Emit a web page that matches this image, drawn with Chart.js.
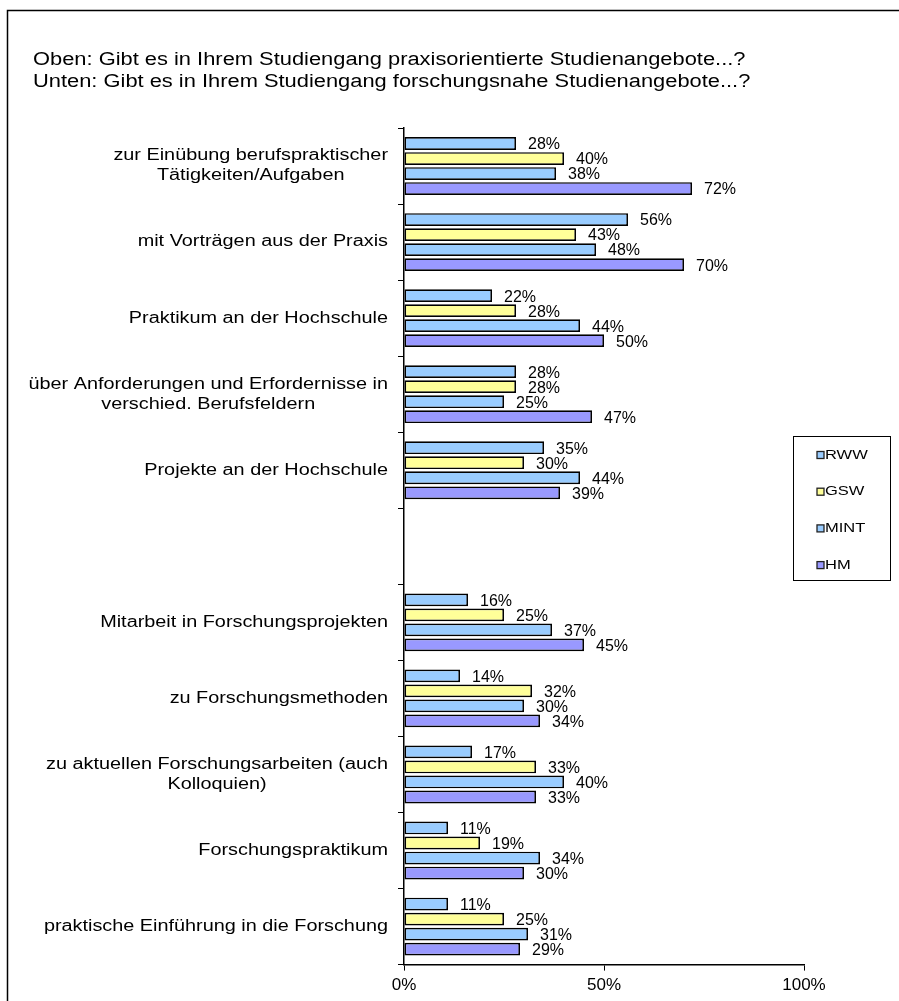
<!DOCTYPE html>
<html>
<head>
<meta charset="utf-8">
<script src="https://cdn.jsdelivr.net/npm/chart.js@4"></script>
<style>
  body { margin: 0; background: #fff; }
  #wrap { width: 899px; height: 1001px; }
</style>
</head>
<body>
<div id="wrap"><canvas id="chart" width="899" height="1001"></canvas></div>
<script>
const categories = [
  ["zur Einübung berufspraktischer", "Tätigkeiten/Aufgaben"],
  ["mit Vorträgen aus der Praxis"],
  ["Praktikum an der Hochschule"],
  ["über Anforderungen und Erfordernisse in", "verschied. Berufsfeldern"],
  ["Projekte an der Hochschule"],
  [""],
  ["Mitarbeit in Forschungsprojekten"],
  ["zu Forschungsmethoden"],
  ["zu aktuellen Forschungsarbeiten (auch", "Kolloquien)"],
  ["Forschungspraktikum"],
  ["praktische Einführung in die Forschung"]
];
const seriesNames = ["RWW", "GSW", "MINT", "HM"];
const rww  = [28, 56, 22, 28, 35, null, 16, 14, 17, 11, 11];
const gsw  = [40, 43, 28, 28, 30, null, 25, 32, 33, 19, 25];
const mint = [38, 48, 44, 25, 44, null, 37, 30, 40, 34, 31];
const hm   = [72, 70, 50, 47, 39, null, 45, 34, 33, 30, 29];
const xTicks = [0, 50, 100];
const titleLines = [
  "Oben: Gibt es in Ihrem Studiengang praxisorientierte Studienangebote...?",
  "Unten: Gibt es in Ihrem Studiengang forschungsnahe Studienangebote...?"
];

const FONT = "'Liberation Sans', Arial, sans-serif";
const colors = ["#99CCFF", "#FFFF99", "#99CCFF", "#9999FF"];

// the source renders its text a bit wider, so stretch horizontally
function wideText(ctx, text, x, y, sx) {
  ctx.save();
  ctx.translate(x, y);
  ctx.scale(sx, 1);
  ctx.fillText(text, 0, 0);
  ctx.restore();
}

const decor = {
  id: "decor",
  beforeDraw(chart) {
    const ctx = chart.ctx;
    ctx.save();
    ctx.fillStyle = "#fff";
    ctx.fillRect(0, 0, chart.width, chart.height);
    ctx.strokeStyle = "#000";
    ctx.lineWidth = 1.5;
    ctx.beginPath();
    ctx.moveTo(7.5, chart.height);
    ctx.lineTo(7.5, 10.5);
    ctx.lineTo(chart.width, 10.5);
    ctx.stroke();
    ctx.fillStyle = "#000";
    ctx.font = "18px " + FONT;
    ctx.textAlign = "left";
    ctx.textBaseline = "alphabetic";
    titleLines.forEach((t, i) => wideText(ctx, t, 33, 65 + i * 22, 1.215));
    ctx.restore();
  },
  afterDatasetsDraw(chart) {
    const ctx = chart.ctx;
    const y = chart.scales.y;
    ctx.save();
    ctx.fillStyle = "#000";
    // category labels: block right aligned, lines centered in the block
    const sx = 1.24;
    ctx.font = "16px " + FONT;
    ctx.textBaseline = "middle";
    ctx.textAlign = "center";
    categories.forEach((lines, i) => {
      const cy = y.getPixelForValue(i);
      const w = Math.max(...lines.map(l => ctx.measureText(l).width)) * sx;
      const cx = 388 - w / 2;
      lines.forEach((l, j) => {
        wideText(ctx, l, cx, cy + (j - (lines.length - 1) / 2) * 20, sx);
      });
    });
    // value labels
    ctx.font = "16px " + FONT;
    ctx.textAlign = "left";
    chart.data.datasets.forEach((ds, di) => {
      const meta = chart.getDatasetMeta(di);
      meta.data.forEach((bar, i) => {
        if (ds.data[i] == null) return;
        ctx.fillText(ds.data[i] + "%", bar.x + 12, bar.y + 1.5);
      });
    });
    // legend
    const lx = 793, ly = 436, lw = 97, lh = 144;
    ctx.strokeStyle = "#000";
    ctx.lineWidth = 1;
    ctx.strokeRect(lx + 0.5, ly + 0.5, lw, lh);
    ctx.font = "13px " + FONT;
    ctx.textAlign = "left";
    chart.data.datasets.forEach((ds, di) => {
      const iy = 455 + di * 36.7;
      ctx.fillStyle = ds.backgroundColor;
      ctx.fillRect(817, iy - 3.5, 7, 7);
      ctx.strokeStyle = "#222";
      ctx.lineWidth = 1.3;
      ctx.strokeRect(817, iy - 3.5, 7, 7);
      ctx.fillStyle = "#000";
      wideText(ctx, ds.label, 825, iy, 1.27);
    });
    ctx.restore();
  }
};

const datasets = [rww, gsw, mint, hm].map((d, i) => ({
  label: seriesNames[i],
  data: d,
  backgroundColor: colors[i],
  borderColor: "#000",
  borderWidth: 1.7,
  borderSkipped: false,
  categoryPercentage: 0.79,
  barPercentage: 0.85
}));

new Chart(document.getElementById("chart"), {
  type: "bar",
  data: { labels: categories.map(c => c.join(" ")), datasets },
  options: {
    indexAxis: "y",
    responsive: false,
    animation: false,
    events: [],
    layout: { padding: { left: 398, right: 95, top: 128, bottom: 0 } },
    plugins: { legend: { display: false }, tooltip: { enabled: false } },
    scales: {
      x: {
        min: 0, max: 100,
        afterBuildTicks: s => { s.ticks = xTicks.map(v => ({ value: v })); },
        ticks: { callback: v => v + "%", color: "#000", font: { family: FONT, size: 17 }, padding: 5 },
        grid: { drawOnChartArea: false, color: "#000", tickLength: 6 },
        border: { color: "#000", width: 1.5 }
      },
      y: {
        ticks: { display: false },
        grid: { drawOnChartArea: false, color: "#000", tickLength: 6, offset: true },
        border: { color: "#000", width: 1.5 }
      }
    }
  },
  plugins: [decor]
});
</script>
</body>
</html>
